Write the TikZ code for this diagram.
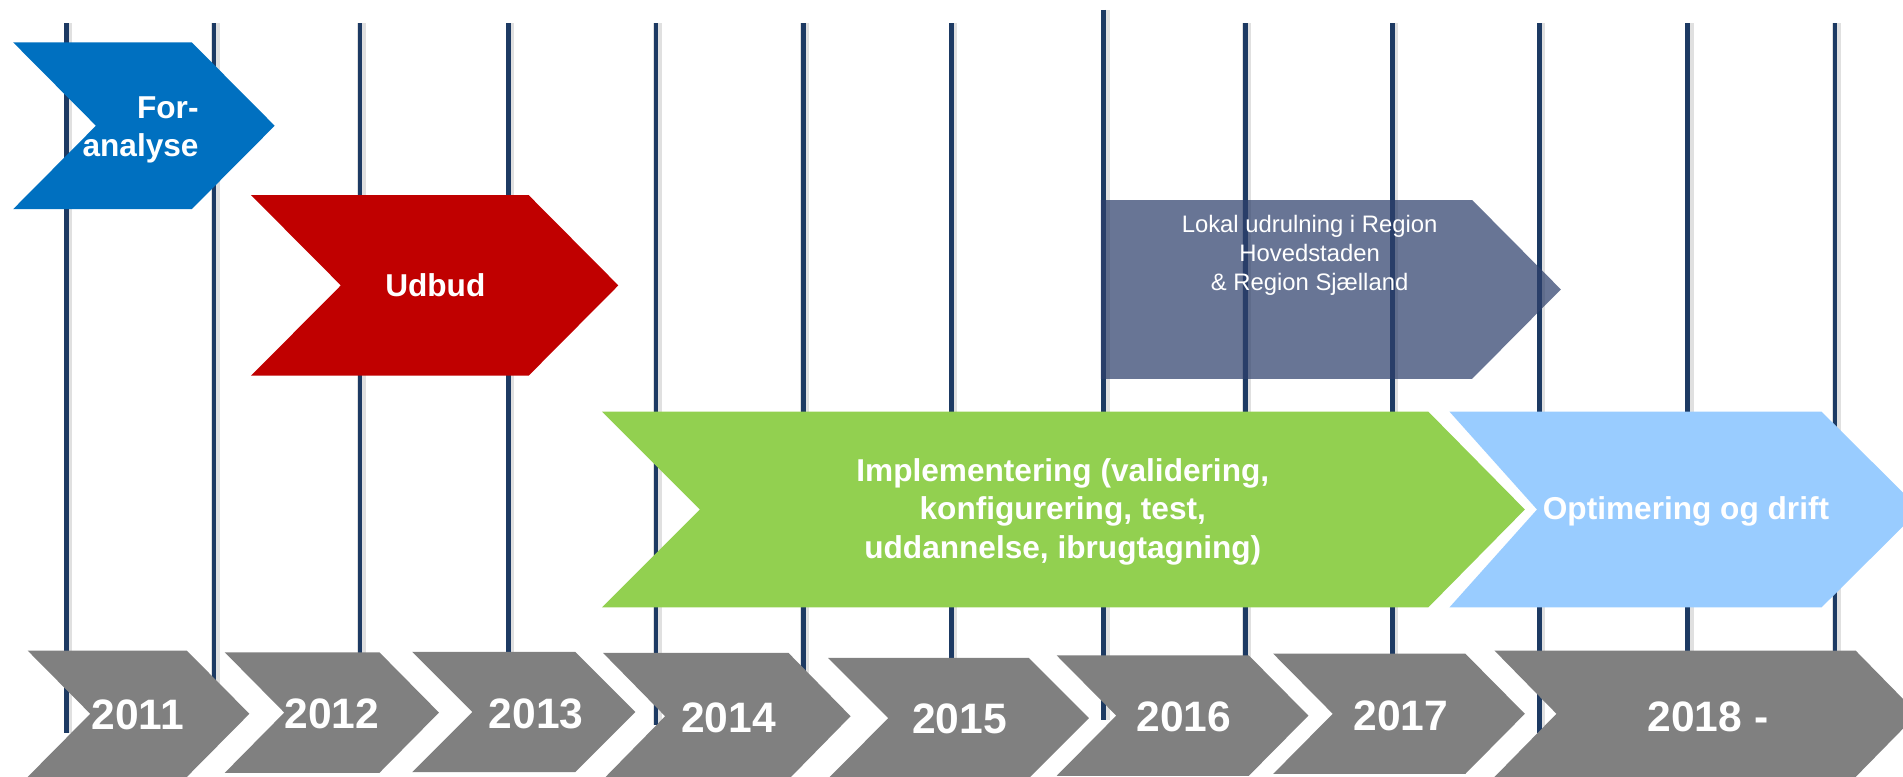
\documentclass[tikz,border=0pt]{standalone}
\usepackage{fontspec}
\setmainfont{Liberation Sans}
\definecolor{vnavy}{HTML}{1D3A63}
\definecolor{pblue}{HTML}{0070C0}
\definecolor{pred}{HTML}{C00000}
\definecolor{pslate}{HTML}{2E406C}
\definecolor{pgreen}{HTML}{92D050}
\definecolor{plight}{HTML}{99CCFF}
\definecolor{pgray}{HTML}{808080}
\begin{document}
\begin{tikzpicture}[x=1pt,y=-1pt,
  vline/.style={draw=vnavy,line width=4pt},
  vshadow/.style={draw=black,opacity=0.12,line width=7pt},
  yearfill/.style={fill=pgray},
  btxt/.style={text=white,inner sep=0pt,font=\fontsize{26}{31.5}\selectfont\bfseries},
  ytxt/.style={text=white,inner sep=0pt,font=\fontsize{35}{40}\selectfont\bfseries},
  ltxt/.style={text=white,inner sep=0pt,align=center,font=\fontsize{19.6}{23.8}\selectfont}]
\useasboundingbox (0,0) rectangle (1565,638.2);
\clip (0,0) rectangle (1565,638.2);
% vertical year lines
\foreach \x/\t/\b in {54.8/19.2/603,176/19.2/600,296/19.2/600,418.3/19.2/600,539.5/19.2/596,660.5/19.2/600,782.5/19.2/600,907.8/8.2/592,1024/19.2/600,1145.3/19.2/600,1266/19.2/603,1388/19.2/600,1509/19.2/600}{
  \draw[vshadow] (\x+1.2,\t) -- (\x+1.2,\b);
  \draw[vline] (\x,\t) -- (\x,\b);
}
% phase arrows
\fill[pblue] (10.8,34.8) -- (157.7,34.8) -- (225.9,103.4) -- (157.7,172) -- (10.8,172) -- (78.9,103.4) -- cycle;
\fill[pred] (206.4,160.4) -- (434.7,160.4) -- (508.5,234.7) -- (434.7,309) -- (206.4,309) -- (280.3,234.7) -- cycle;
\fill[pgreen] (495,338.5) -- (1174.6,338.5) -- (1254,419) -- (1174.6,499.5) -- (495,499.5) -- (575.5,419) -- cycle;
\fill[plight] (1192,338.5) -- (1498,338.5) -- (1579,419) -- (1498,499.5) -- (1192,499.5) -- (1264,419) -- cycle;
\fill[pslate,fill opacity=0.72] (905.3,164.5) -- (1210.7,164.5) -- (1283.6,238) -- (1210.7,311.5) -- (905.3,311.5) -- cycle;
% year chevrons
\foreach \L/\R/\D/\T/\M in {22.7/153.6/51.5/535/587,184.8/312/49/536.4/586,339/473/49.5/536/585.5,496/648.5/51/537/589,681/846/49.5/541/590.6,869/1027/49/539/588.5,1047/1205/49/537.5/587,1229/1526/51/535/587}{
  \fill[yearfill] (\L,\T) -- (\R,\T) -- ({\R+\D},\M) -- (\R,{2*\M-\T}) -- (\L,{2*\M-\T}) -- ({\L+\D},\M) -- cycle;
}
% texts (base anchor of a multi-line node is the baseline of its last line)
\node[btxt,align=right,anchor=base east] (foranalyse) at (163.5,129) {For-\\analyse};
\node[btxt,anchor=base] (udbud) at (358,244) {Udbud};
\node[ltxt,anchor=base] (lokal) at (1077,238.5) {Lokal udrulning i Region\\Hovedstaden\\\& Region Sjælland};
\node[btxt,align=center,anchor=base] (impl) at (874,459) {Implementering (validering,\\konfigurering, test,\\uddannelse, ibrugtagning)};
\node[btxt,anchor=base] (optim) at (1386.5,427.6) {Optimering og drift};
\node[ytxt,anchor=base] (y2011) at (113.3,600.3) {2011};
\node[ytxt,anchor=base] (y2012) at (273,599) {2012};
\node[ytxt,anchor=base] (y2013) at (441,598.8) {2013};
\node[ytxt,anchor=base] (y2014) at (599,602) {2014};
\node[ytxt,anchor=base] (y2015) at (789,603.6) {2015};
\node[ytxt,anchor=base] (y2016) at (973.7,601.7) {2016};
\node[ytxt,anchor=base] (y2017) at (1152,600.9) {2017};
\node[ytxt,anchor=base] (y2018) at (1404.6,601.7) {2018 -};
\end{tikzpicture}
\end{document}
